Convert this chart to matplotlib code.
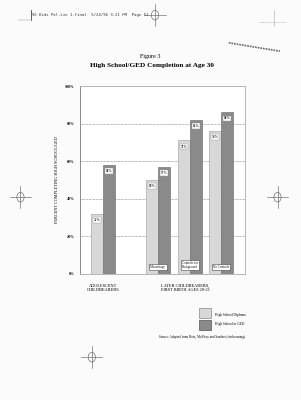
import numpy as np
import matplotlib.pyplot as plt
from matplotlib.patches import Circle

# values
groups = ['', 'Miscarriage', 'Controls for\nBackground', 'No Controls']
hs_diploma = [32, 50, 71, 76]
hs_or_ged = [58, 57, 82, 86]
yticks = [0, 20, 40, 60, 80, 100]
ytick_labels = ['0%', '20%', '40%', '60%', '80%', '100%']
series_names = ['High School Diploma', 'High School or GED']

light = '#d8d8d8'
dark = '#8a8a8a'
serif = ['Liberation Serif', 'DejaVu Serif']

fig = plt.figure(figsize=(3.01, 4.00), dpi=100)
fig.patch.set_facecolor('#fbfbfb')

# page furniture from the scan
fig.text(0.106, 0.962, '96 Kids Pel.Lin 1.final  5/24/96 3:21 PM  Page 51',
         family='DejaVu Sans Mono', fontsize=2.8, color='#333333', va='center')
fig.add_artist(plt.Line2D([0.103, 0.103], [0.950, 0.975], color='#444444', lw=0.6))
fig.add_artist(plt.Line2D([0.06, 0.10], [0.950, 0.950], color='#888888', lw=0.3))
fig.add_artist(plt.Line2D([0.76, 0.93], [0.893, 0.872], color='#666666', lw=1.2, ls=(0, (1, 0.6))))
fig.add_artist(plt.Line2D([0.91, 0.91], [0.935, 0.975], color='#aaaaaa', lw=0.4))
fig.add_artist(plt.Line2D([0.86, 0.95], [0.945, 0.945], color='#aaaaaa', lw=0.4, ls=(0, (2, 1))))

def crosshair(x, y, r=0.016):
    fig.add_artist(plt.Line2D([x - 2.2 * r, x + 2.2 * r], [y, y], color='#555555', lw=0.4))
    fig.add_artist(plt.Line2D([x, x], [y - 1.7 * r, y + 1.7 * r], color='#555555', lw=0.4))
    fig.add_artist(Circle((x, y), r * 0.75, transform=fig.transFigure, fill=False,
                          ec='#555555', lw=0.4))

crosshair(0.515, 0.962)
crosshair(0.068, 0.507)
crosshair(0.922, 0.507)
crosshair(0.305, 0.107)

fig.text(0.5, 0.858, 'Figure 3', ha='center', va='center', family=serif, fontsize=4.3)
fig.text(0.505, 0.835, 'High School/GED Completion at Age 30', ha='center', va='center',
         family=serif, fontsize=5.2, fontweight='bold')

ax = fig.add_axes([0.266, 0.316, 0.548, 0.469])
centers = np.array([0.73, 2.48, 3.49, 4.48])
w = 0.38
b1 = ax.bar(centers - w / 2, hs_diploma, w, color=light, edgecolor='#9a9a9a', lw=0.4, zorder=3)
b2 = ax.bar(centers + w / 2, hs_or_ged, w, color=dark, edgecolor='#666666', lw=0.4, zorder=3)

for bars, vals in ((b1, hs_diploma), (b2, hs_or_ged)):
    for rect, v in zip(bars, vals):
        ax.text(rect.get_x() + rect.get_width() / 2, v - 2.2, f'{v}%', ha='center', va='top',
                fontsize=2.4, family=serif, fontweight='bold', color='#222222', zorder=5,
                bbox=dict(boxstyle='square,pad=0.25', fc='white', ec='#999999', lw=0.3))

for c, g in zip(centers, groups):
    if g:
        ax.text(c, 2.5, g, ha='center', va='bottom', fontsize=2.3, family=serif,
                color='#111111', zorder=5, linespacing=0.9,
                bbox=dict(boxstyle='square,pad=0.3', fc='white', ec='#444444', lw=0.4))

ax.set_xlim(0, 5.24)
ax.set_ylim(0, 100)
ax.set_xticks([])
ax.set_yticks(yticks)
ax.set_yticklabels(ytick_labels, family=serif, fontsize=2.8, fontweight='bold')
ax.tick_params(axis='y', length=0, pad=4)
for y in yticks[1:-1]:
    ax.axhline(y, color='#777777', lw=0.5, ls=(0, (1, 1)), zorder=1)
for s in ax.spines.values():
    s.set_color('#aaaaaa')
    s.set_linewidth(0.6)
ax.spines['left'].set_color('#777777')
ax.set_ylabel('PERCENT COMPLETING HIGH SCHOOL/GED', family=serif, fontsize=3.1, labelpad=4)

fig.text(0.342, 0.280, 'ADOLESCENT\nCHILDBEARERS', ha='center', va='center', family=serif,
         fontsize=3.2, linespacing=1.0)
fig.text(0.615, 0.280, 'LATER CHILDBEARERS,\nFIRST BIRTH AGES 20-21', ha='center', va='center',
         family=serif, fontsize=3.2, linespacing=1.0)

# legend
lax = fig.add_axes([0.66, 0.172, 0.044, 0.062])
lax.set_xlim(0, 1)
lax.set_ylim(0, 2)
lax.bar([0.5], [0.8], 0.9, bottom=[1.1], color=light, edgecolor='#888888', lw=0.5)
lax.bar([0.5], [0.8], 0.9, bottom=[0.1], color=dark, edgecolor='#555555', lw=0.5)
lax.axis('off')
fig.text(0.715, 0.2135, series_names[0], family=serif, fontsize=2.5, va='center')
fig.text(0.715, 0.189, series_names[1], family=serif, fontsize=2.5, va='center')

fig.text(0.527, 0.158, 'Source: Adapted from Hotz, McElroy and Sanders (forthcoming).',
         family=serif, fontsize=2.3, va='center')

fig.savefig('out.png', dpi=100, facecolor=fig.get_facecolor())
